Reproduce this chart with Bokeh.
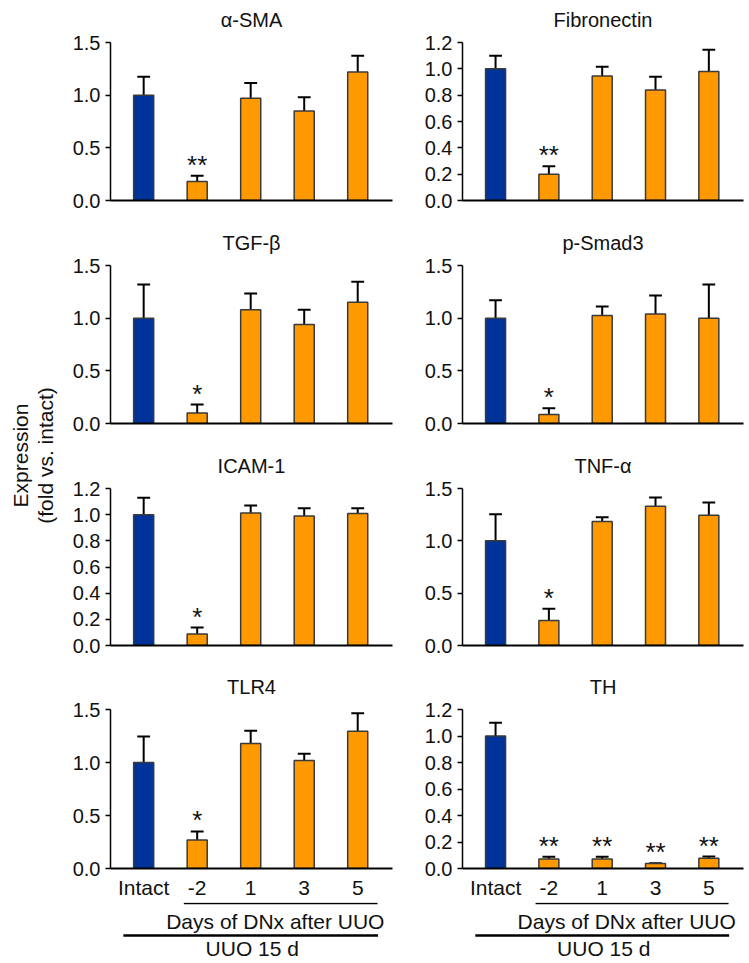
import math
from bokeh.plotting import figure
from bokeh.models import Range1d, FixedTicker, ColumnDataSource, LabelSet, PrintfTickFormatter
from bokeh.layouts import row, column
from bokeh.embed import file_html
from bokeh.resources import INLINE
from bokeh.core.properties import value

# ---------------- data ----------------
groups = ["Intact", "-2", "1", "3", "5"]
titles = ["α-SMA", "Fibronectin", "TGF-β", "p-Smad3", "ICAM-1", "TNF-α", "TLR4", "TH"]
y_max = [1.5, 1.2, 1.5, 1.5, 1.2, 1.5, 1.5, 1.2]

sma_mean = [1.00, 0.18, 0.97, 0.85, 1.22]
sma_upper = [1.175, 0.235, 1.115, 0.98, 1.375]
sma_sig = ["", "**", "", "", ""]

fn_mean = [1.00, 0.20, 0.945, 0.84, 0.98]
fn_upper = [1.10, 0.26, 1.015, 0.94, 1.145]
fn_sig = ["", "**", "", "", ""]

tgf_mean = [1.00, 0.10, 1.08, 0.94, 1.15]
tgf_upper = [1.32, 0.18, 1.235, 1.08, 1.345]
tgf_sig = ["", "*", "", "", ""]

psmad_mean = [1.00, 0.085, 1.025, 1.04, 1.00]
psmad_upper = [1.17, 0.145, 1.11, 1.215, 1.32]
psmad_sig = ["", "*", "", "", ""]

icam_mean = [1.00, 0.087, 1.012, 0.99, 1.008]
icam_upper = [1.13, 0.137, 1.07, 1.05, 1.05]
icam_sig = ["", "*", "", "", ""]

tnf_mean = [1.00, 0.24, 1.185, 1.33, 1.245]
tnf_upper = [1.255, 0.35, 1.225, 1.415, 1.367]
tnf_sig = ["", "*", "", "", ""]

tlr4_mean = [1.00, 0.27, 1.18, 1.02, 1.295]
tlr4_upper = [1.245, 0.35, 1.30, 1.082, 1.465]
tlr4_sig = ["", "*", "", "", ""]

th_mean = [1.00, 0.071, 0.071, 0.038, 0.078]
th_upper = [1.10, 0.088, 0.088, 0.040, 0.090]
th_sig = ["", "**", "**", "**", "**"]

means = [sma_mean, fn_mean, tgf_mean, psmad_mean, icam_mean, tnf_mean, tlr4_mean, th_mean]
uppers = [sma_upper, fn_upper, tgf_upper, psmad_upper, icam_upper, tnf_upper, tlr4_upper, th_upper]
sigs = [sma_sig, fn_sig, tgf_sig, psmad_sig, icam_sig, tnf_sig, tlr4_sig, th_sig]

y_label_1 = "Expression"
y_label_2 = "(fold vs. intact)"
sub_label = "Days of DNx after UUO"
main_label = "UUO 15 d"

# ---------------- style ----------------
FONT = "Liberation Sans"
TXT = "#111111"
BLUE = "#003399"
ORANGE = "#FF9900"
X0, X1 = -0.62, 4.65
BAR_W = 0.375
CAP = 0.12
TITLE_PX = 23  # title centre, pixels above the top tick

LABEL_W = 60
COLS = [dict(left=50, frame=282, right=28), dict(left=42, frame=281, right=6)]
ROWS = [dict(top=42, frame=158, bottom=22), dict(top=43, frame=158, bottom=22),
        dict(top=43, frame=157, bottom=22), dict(top=42, frame=159, bottom=34)]
BOTTOM_H = 963 - sum(r["top"] + r["frame"] + r["bottom"] for r in ROWS)


def make_panel(i, r, c):
    col = COLS[c]
    rw = ROWS[r]
    ymax = y_max[i]
    per_px = ymax / rw["frame"]
    y_end = ymax + rw["top"] * per_px
    xs = list(range(len(groups)))
    p = figure(output_backend="svg", toolbar_location=None, tools="",
               frame_width=col["frame"], frame_height=rw["frame"] + rw["top"],
               min_border_left=col["left"], min_border_right=col["right"],
               min_border_top=0, min_border_bottom=rw["bottom"],
               x_range=Range1d(X0, X1), y_range=Range1d(0, y_end))
    p.outline_line_color = None
    p.grid.visible = False
    p.background_fill_color = "white"
    p.border_fill_color = "white"

    # panel title, drawn inside the (extended) frame above the axis top
    p.text(x=[(X0 + X1) / 2], y=[ymax + TITLE_PX * per_px], text=[titles[i]],
           text_align="center", text_baseline="middle",
           text_font=value(FONT), text_font_size=value("20px"), text_color=TXT)

    colors = [BLUE] + [ORANGE] * (len(groups) - 1)
    src = ColumnDataSource(dict(x=xs, top=means[i], up=uppers[i], sig=sigs[i], color=colors,
                                cl=[x - CAP for x in xs], cr=[x + CAP for x in xs]))
    p.segment(x0="x", y0="top", x1="x", y1="up", source=src, line_color="black", line_width=2)
    p.segment(x0="cl", y0="up", x1="cr", y1="up", source=src, line_color="black", line_width=2)
    p.vbar(x="x", top="top", bottom=0, width=BAR_W, source=src, fill_color="color",
           line_color="#3a3a3a", line_width=1.5)

    stars = LabelSet(x="x", y="up", text="sig", source=src, y_offset=2,
                     text_align="center", text_baseline="alphabetic",
                     text_font=value(FONT), text_font_size=value("26px"), text_color=TXT)
    p.add_layout(stars)

    step = 0.5 if ymax == 1.5 else 0.2
    n = int(round(ymax / step))
    p.yaxis.ticker = FixedTicker(ticks=[round(k * step, 2) for k in range(n + 1)])
    p.yaxis.bounds = (0, ymax)
    p.yaxis.formatter = PrintfTickFormatter(format="%.1f")
    p.yaxis.axis_line_width = 1.5
    p.yaxis.major_tick_line_width = 1.5
    p.yaxis.major_tick_out = 5
    p.yaxis.major_tick_in = 0
    p.yaxis.minor_tick_line_color = None
    p.yaxis.major_label_standoff = 5
    p.yaxis.major_label_text_font = FONT
    p.yaxis.major_label_text_font_size = "20px"
    p.yaxis.major_label_text_color = TXT

    p.xaxis.axis_line_width = 2
    p.xaxis.major_tick_out = 0
    p.xaxis.major_tick_in = 0
    p.xaxis.minor_tick_line_color = None
    p.xaxis.major_tick_line_color = None
    if r == len(ROWS) - 1:
        p.xaxis.ticker = FixedTicker(ticks=xs)
        p.xaxis.major_label_overrides = {k: g for k, g in enumerate(groups)}
        p.xaxis.major_label_standoff = 7
        p.xaxis.major_label_text_font = FONT
        p.xaxis.major_label_text_font_size = "21px"
        p.xaxis.major_label_text_color = TXT
    else:
        p.xaxis.ticker = FixedTicker(ticks=[])
        p.xaxis.major_label_text_font_size = "0px"
        p.xaxis.major_label_standoff = 0
    return p


def make_bottom(c):
    col = COLS[c]
    h = BOTTOM_H
    b = figure(output_backend="svg", toolbar_location=None, tools="",
               frame_width=col["frame"], frame_height=h,
               min_border_left=col["left"], min_border_right=col["right"],
               min_border_top=0, min_border_bottom=0,
               x_range=Range1d(X0, X1), y_range=Range1d(0, h))
    b.axis.visible = False
    b.grid.visible = False
    b.outline_line_color = None
    b.segment(x0=[0.75], y0=[h - 1], x1=[4.37], y1=[h - 1], line_color="black", line_width=1.5)
    b.segment(x0=[-0.38], y0=[h - 33], x1=[4.38], y1=[h - 33], line_color="black", line_width=2.5)
    b.text(x=[2.46], y=[h - 19], text=[sub_label], text_align="center", text_baseline="middle",
           text_font=value(FONT), text_font_size=value("21px"), text_color=TXT)
    b.text(x=[2.03], y=[h - 46], text=[main_label], text_align="center", text_baseline="middle",
           text_font=value(FONT), text_font_size=value("21px"), text_color=TXT)
    return b


total_h = 963
lab = figure(output_backend="svg", toolbar_location=None, tools="",
             frame_width=LABEL_W, frame_height=total_h,
             min_border=0, x_range=Range1d(0, LABEL_W), y_range=Range1d(0, total_h))
lab.axis.visible = False
lab.grid.visible = False
lab.outline_line_color = None
lab.text(x=[20], y=[total_h - 455], text=[y_label_1], angle=math.pi / 2,
         text_align="center", text_baseline="middle",
         text_font=value(FONT), text_font_size=value("21px"), text_color=TXT)
lab.text(x=[45], y=[total_h - 455], text=[y_label_2], angle=math.pi / 2,
         text_align="center", text_baseline="middle",
         text_font=value(FONT), text_font_size=value("21px"), text_color=TXT)

rows_ = []
k = 0
for r in range(4):
    pair = []
    for c in range(2):
        pair.append(make_panel(k, r, c))
        k += 1
    rows_.append(row(*pair))
rows_.append(row(make_bottom(0), make_bottom(1)))

layout = row(lab, column(*rows_))

open("out.html", "w").write(file_html(layout, INLINE))
